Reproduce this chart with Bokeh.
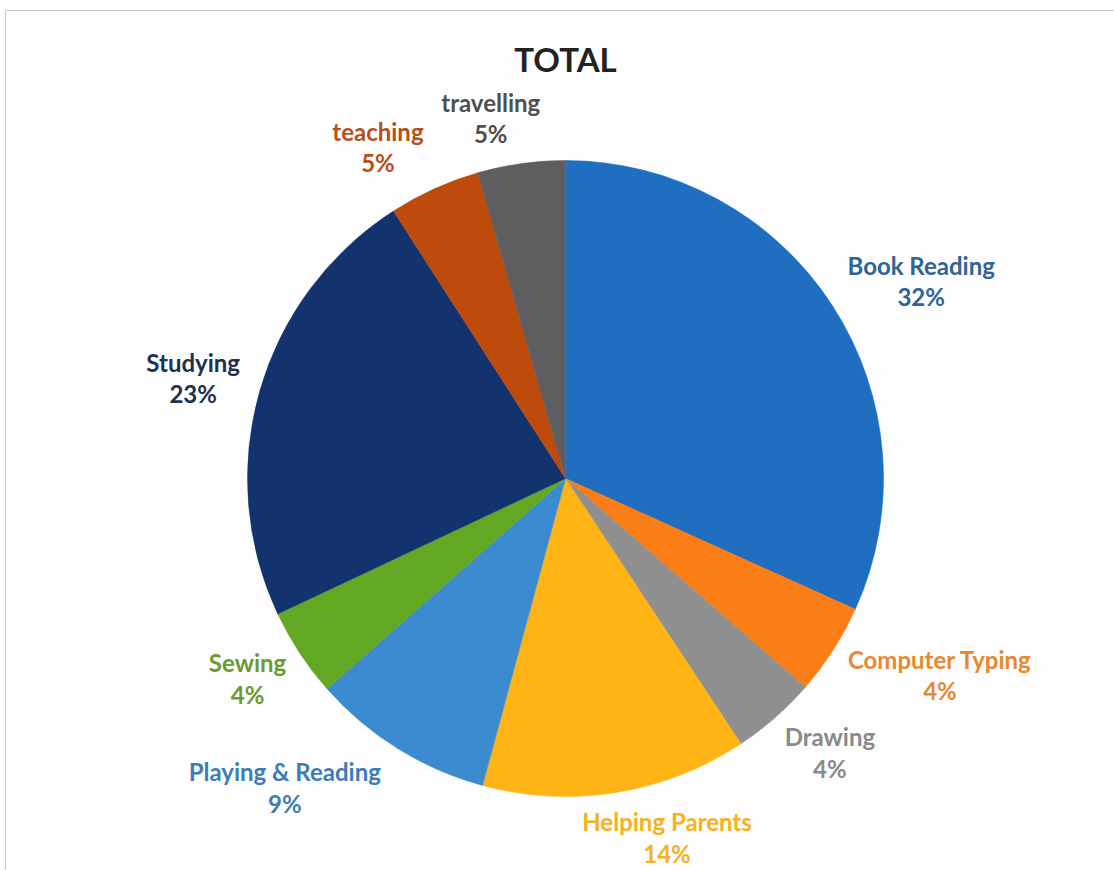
import math
from bokeh.plotting import figure
from bokeh.models import ColumnDataSource
from bokeh.core.properties import value
from bokeh.embed import file_html
from bokeh.resources import INLINE

# ---- data ----
title_text = "TOTAL"
categories = ["Book Reading", "Computer Typing", "Drawing", "Helping Parents",
              "Playing & Reading", "Sewing", "Studying", "teaching", "travelling"]
shares = [31.75, 4.65, 4.30, 13.50, 9.30, 4.50, 22.90, 4.65, 4.45]
pct_labels = ["32%", "4%", "4%", "14%", "9%", "4%", "23%", "5%", "5%"]

# ---- styles ----
slice_colors = ["#1F6EBF", "#FA7D16", "#8F8F8F", "#FDB414", "#3C8BD0",
                "#62A822", "#12336E", "#BE4A0C", "#5E5E60"]
label_colors = ["#2F6497", "#E8892F", "#8A8A8A", "#F5B21C", "#3C7DB8",
                "#6A9A30", "#22304F", "#B5501A", "#4F4F4F"]

W, H = 1114, 870
CX, CY = 565, H - 478
R = 318
GAP = 19
FS = 24
LINE_H = 1.1

total = sum(shares)
starts, ends, lx, ly, txt = [], [], [], [], []
cum = 0.0
for cat, s, pl in zip(categories, shares, pct_labels):
    a0 = cum / total * 2 * math.pi
    cum += s
    a1 = cum / total * 2 * math.pi
    starts.append(math.pi / 2 - a0)
    ends.append(math.pi / 2 - a1)
    mid = (a0 + a1) / 2
    ux, uy = math.sin(mid), math.cos(mid)
    w = max(len(cat), len(pl)) * 22 * 0.55
    h = 54
    px, py = (R + GAP) * ux, (R + GAP) * uy
    sx = (1 if ux >= 0 else -1) * w / 2 * min(1.0, 3.3 * abs(ux))
    lx.append(CX + px + sx)
    ly.append(CY + py + uy * h / 2)
    txt.append(cat + "\n" + pl)

src = ColumnDataSource(dict(start=starts, end=ends, color=slice_colors,
                            x=[CX] * len(shares), y=[CY] * len(shares)))
lsrc = ColumnDataSource(dict(x=lx, y=ly, text=txt, color=label_colors))

p = figure(width=W, height=H, x_range=(0, W), y_range=(0, H),
           output_backend="svg", toolbar_location=None,
           x_axis_type=None, y_axis_type=None, min_border=0)
p.grid.visible = False
p.background_fill_color = "#FDFDFD"
p.border_fill_color = "#FDFDFD"
p.outline_line_color = None

# scanned-page frame
p.quad(left=[5], right=[W + 20], top=[H - 10], bottom=[-20],
       fill_color=None, line_color="#C6C6C6", line_width=1)

p.wedge(x="x", y="y", radius=R, start_angle="start", end_angle="end",
        direction="clock", fill_color="color", line_color="color",
        line_width=0.5, source=src)

p.text(x="x", y="y", text="text", text_color="color", source=lsrc,
       text_font=value("Lato"), text_font_style="bold", text_font_size=f"{FS}px",
       text_align="center", text_baseline="middle", text_line_height=LINE_H)

p.text(x=[CX], y=[H - 58], text=[title_text], text_color="#222222",
       text_font=value("Lato"), text_font_style="bold", text_font_size="33px",
       text_align="center", text_baseline="alphabetic")

open("out.html", "w").write(file_html(p, INLINE))
